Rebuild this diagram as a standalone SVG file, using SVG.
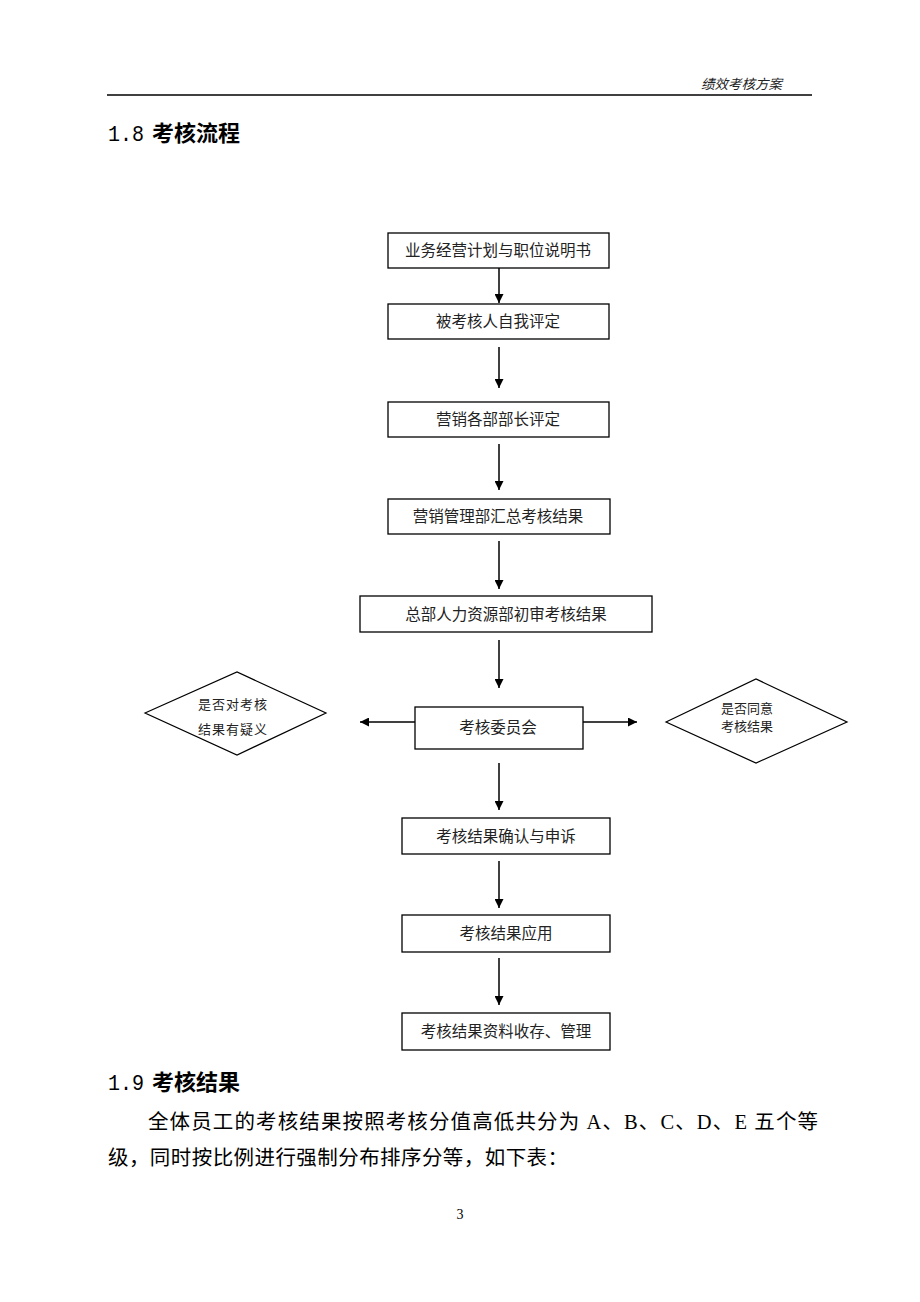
<svg xmlns="http://www.w3.org/2000/svg" width="920" height="1302" viewBox="0 0 920 1302">
<style>
.bg{fill:#fff}
.box{fill:#fff;stroke:#000;stroke-width:1.3}
.dia{fill:#fff;stroke:#000;stroke-width:1.2}
.t{font-family:"Noto Sans CJK SC","Liberation Serif",serif;font-size:15.5px;fill:#222;text-anchor:middle}
.d{font-family:"Noto Sans CJK SC","Liberation Serif",serif;font-size:13px;fill:#222;text-anchor:middle}
.h{font-family:"Liberation Mono","Noto Sans CJK SC",monospace;font-size:22px;fill:#000}
.hb{font-family:"Noto Sans CJK SC",sans-serif;font-weight:bold}
.p{font-family:"Liberation Serif","Noto Sans CJK SC",serif;font-size:20.5px;fill:#000}
.c line{stroke:#000;stroke-width:1.5}
</style>
<defs>
<marker id="ah2" viewBox="0 0 10 10" refX="10" refY="5" markerWidth="9" markerHeight="9" orient="auto" markerUnits="userSpaceOnUse">
<path d="M0,0 L10,5 L0,10 z" fill="#000"/>
</marker>
</defs>
<rect class="bg" x="0" y="0" width="920" height="1302"/>
<g id="header">
<text x="782" y="89" font-family="'Noto Sans CJK SC',sans-serif" font-size="13.5" font-style="italic" text-anchor="end" fill="#222">绩效考核方案</text>
<line x1="107" y1="95" x2="812" y2="95" stroke="#000" stroke-width="1.3"/>
</g>
<text id="title18" class="h" x="108" y="141"><tspan textLength="36" lengthAdjust="spacingAndGlyphs">1.8</tspan><tspan class="hb" x="152">考核流程</tspan></text>
<g class="c" id="connectors">
<line x1="499" y1="268" x2="499" y2="303" marker-end="url(#ah2)"/>
<line x1="499" y1="347" x2="499" y2="388" marker-end="url(#ah2)"/>
<line x1="499" y1="444" x2="499" y2="490" marker-end="url(#ah2)"/>
<line x1="499" y1="541" x2="499" y2="589" marker-end="url(#ah2)"/>
<line x1="499" y1="640" x2="499" y2="688" marker-end="url(#ah2)"/>
<line x1="415" y1="722" x2="360" y2="722" marker-end="url(#ah2)"/>
<line x1="583" y1="722" x2="637" y2="722" marker-end="url(#ah2)"/>
<line x1="499" y1="763" x2="499" y2="810" marker-end="url(#ah2)"/>
<line x1="499" y1="861" x2="499" y2="908" marker-end="url(#ah2)"/>
<line x1="499" y1="958" x2="499" y2="1005" marker-end="url(#ah2)"/>
</g>
<g id="n1"><rect class="box" x="388" y="233" width="221" height="35"/><text class="t" x="498" y="256">业务经营计划与职位说明书</text></g>
<g id="n2"><rect class="box" x="388" y="304" width="221" height="35"/><text class="t" x="498" y="327">被考核人自我评定</text></g>
<g id="n3"><rect class="box" x="388" y="402" width="221" height="35"/><text class="t" x="498" y="425">营销各部部长评定</text></g>
<g id="n4"><rect class="box" x="388" y="499" width="222" height="35"/><text class="t" x="498" y="522">营销管理部汇总考核结果</text></g>
<g id="n5"><rect class="box" x="360" y="596" width="292" height="36"/><text class="t" x="506" y="620">总部人力资源部初审考核结果</text></g>
<g id="n6"><rect class="box" x="415" y="707" width="168" height="42"/><text class="t" x="498" y="733">考核委员会</text></g>
<g id="d1"><polygon class="dia" points="145,713 237,672 326,713 237,755"/><text class="d" x="233" y="709" letter-spacing="1">是否对考核</text><text class="d" x="233" y="734" letter-spacing="1">结果有疑义</text></g>
<g id="d2"><polygon class="dia" points="666,722 756,679 847,722 756,763"/><text class="d" x="747" y="713">是否同意</text><text class="d" x="747" y="731">考核结果</text></g>
<g id="n7"><rect class="box" x="402" y="818" width="208" height="36"/><text class="t" x="506" y="842">考核结果确认与申诉</text></g>
<g id="n8"><rect class="box" x="402" y="915" width="208" height="37"/><text class="t" x="506" y="939">考核结果应用</text></g>
<g id="n9"><rect class="box" x="402" y="1013" width="208" height="37"/><text class="t" x="506" y="1037">考核结果资料收存、管理</text></g>
<text id="title19" class="h" x="108" y="1090"><tspan textLength="36" lengthAdjust="spacingAndGlyphs">1.9</tspan><tspan class="hb" x="152">考核结果</tspan></text>
<text class="p" x="148" y="1129" textLength="670" lengthAdjust="spacing">全体员工的考核结果按照考核分值高低共分为 A、B、C、D、E 五个等</text>
<text class="p" x="108" y="1165" textLength="460" lengthAdjust="spacing">级，同时按比例进行强制分布排序分等，如下表：</text>
<text x="460" y="1219" font-family="'Liberation Serif',serif" font-size="14" text-anchor="middle" fill="#000">3</text>
</svg>
